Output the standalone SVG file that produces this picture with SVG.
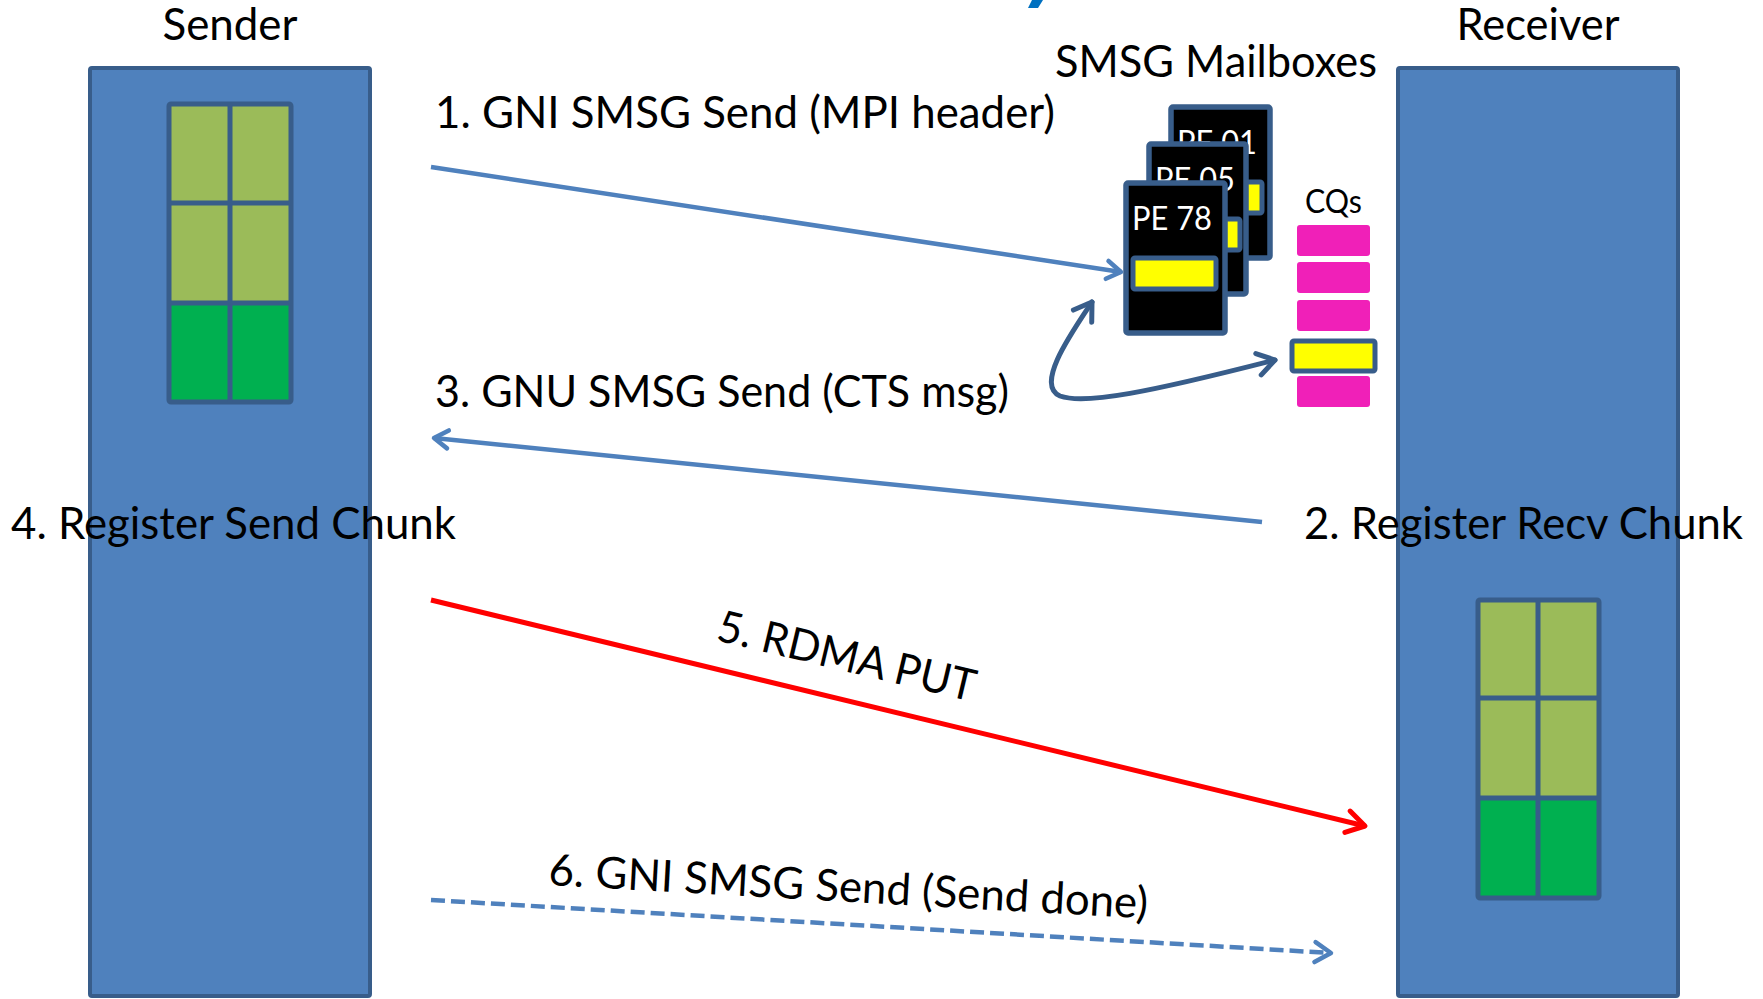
<svg xmlns="http://www.w3.org/2000/svg" width="1763" height="999" viewBox="0 0 1763 999">
<defs>
<style>
.lbl{font-family:Lato,"Liberation Sans",sans-serif;font-size:44px;fill:#000}
.sm{font-family:Lato,"Liberation Sans",sans-serif;font-size:33px}
.proc{fill:#4F81BD;stroke:#385D8A;stroke-width:4}
.grid{fill:none;stroke:#385D8A;stroke-width:5;stroke-linejoin:round}
.lg{fill:#9BBB59}
.dg{fill:#00B050}
.mb{fill:#000;stroke:#385D8A;stroke-width:5.5;stroke-linejoin:round}
.yb{fill:#FFFF00;stroke:#385D8A;stroke-width:5;stroke-linejoin:round}
.cq{fill:#F020B8}
.conn{fill:none;stroke:#4F81BD;stroke-width:4.5}
</style>
<marker id="ahBlue" markerUnits="userSpaceOnUse" markerWidth="40" markerHeight="40" viewBox="-20 -20 40 40" refX="0" refY="0" orient="auto" overflow="visible">
<path d="M-14,-9 L0,0 L-14,9" fill="none" stroke="#4F81BD" stroke-width="4.5" stroke-linecap="round" stroke-linejoin="round"/>
</marker>
<marker id="ahRed" markerUnits="userSpaceOnUse" markerWidth="50" markerHeight="50" viewBox="-25 -25 50 50" refX="0" refY="0" orient="auto" overflow="visible">
<path d="M-18,-11 L0,0 L-18,11" fill="none" stroke="#FF0000" stroke-width="5" stroke-linecap="round" stroke-linejoin="round"/>
</marker>
<marker id="ahDash" markerUnits="userSpaceOnUse" markerWidth="40" markerHeight="40" viewBox="-20 -20 40 40" refX="0" refY="0" orient="auto" overflow="visible">
<path d="M-16,-10 L0,0 L-16,10" fill="none" stroke="#4F81BD" stroke-width="4.5" stroke-linecap="round" stroke-linejoin="round"/>
</marker>
<marker id="ahDark" markerUnits="userSpaceOnUse" markerWidth="50" markerHeight="50" viewBox="-25 -25 50 50" refX="0" refY="0" orient="auto-start-reverse" overflow="visible">
<path d="M-17,-11 L0,0 L-17,11" fill="none" stroke="#385D8A" stroke-width="5" stroke-linecap="round" stroke-linejoin="round"/>
</marker>
</defs>
<rect width="1763" height="999" fill="#FFFFFF"/>
<polygon points="1032,0 1043,0 1038,8 1028,8" fill="#0070C0"/>

<g id="sender">
<rect class="proc" x="90" y="68" width="280" height="928" rx="2"/>
<rect class="lg" x="169" y="104" width="61" height="99"/>
<rect class="lg" x="230" y="104" width="61" height="99"/>
<rect class="lg" x="169" y="203" width="61" height="100"/>
<rect class="lg" x="230" y="203" width="61" height="100"/>
<rect class="dg" x="169" y="303" width="61" height="99"/>
<rect class="dg" x="230" y="303" width="61" height="99"/>
<rect class="grid" x="169" y="104" width="122" height="298" rx="2"/>
<path class="grid" d="M230,104 V402 M169,203 H291 M169,303 H291"/>
<text class="lbl" x="230" y="40" text-anchor="middle" textLength="135" lengthAdjust="spacingAndGlyphs">Sender</text>
</g>

<g id="receiver">
<rect class="proc" x="1398" y="68" width="280" height="928" rx="2"/>
<rect class="lg" x="1478" y="600" width="60" height="98"/>
<rect class="lg" x="1538" y="600" width="61" height="98"/>
<rect class="lg" x="1478" y="698" width="60" height="100"/>
<rect class="lg" x="1538" y="698" width="61" height="100"/>
<rect class="dg" x="1478" y="798" width="60" height="100"/>
<rect class="dg" x="1538" y="798" width="61" height="100"/>
<rect class="grid" x="1478" y="600" width="121" height="298" rx="2"/>
<path class="grid" d="M1538,600 V898 M1478,698 H1599 M1478,798 H1599"/>
<text class="lbl" x="1538" y="40" text-anchor="middle" textLength="163" lengthAdjust="spacingAndGlyphs">Receiver</text>
</g>

<g id="mailboxes">
<text class="lbl" x="1055" y="77" textLength="322" lengthAdjust="spacingAndGlyphs">SMSG Mailboxes</text>
<g id="pe01">
<rect class="mb" x="1171" y="107" width="99" height="151" rx="2"/>
<rect class="yb" x="1178" y="182" width="84" height="31" rx="2"/>
<text class="sm" x="1177" y="154" fill="#FFFFFF" textLength="80" lengthAdjust="spacingAndGlyphs">PE 01</text>
</g>
<g id="pe05">
<rect class="mb" x="1149" y="144" width="97" height="150" rx="2"/>
<rect class="yb" x="1156" y="219" width="84" height="31" rx="2"/>
<text class="sm" x="1155" y="191" fill="#FFFFFF" textLength="80" lengthAdjust="spacingAndGlyphs">PE 05</text>
</g>
<g id="pe78">
<rect class="mb" x="1126" y="183" width="99" height="150" rx="2"/>
<rect class="yb" x="1133" y="258" width="83" height="31" rx="2"/>
<text class="sm" x="1132" y="230" fill="#FFFFFF" textLength="80" lengthAdjust="spacingAndGlyphs">PE 78</text>
</g>
</g>

<g id="cqs">
<text class="sm" x="1305" y="213" fill="#000000" textLength="57" lengthAdjust="spacingAndGlyphs">CQs</text>
<rect class="cq" x="1297" y="225" width="73" height="31" rx="3"/>
<rect class="cq" x="1297" y="262" width="73" height="31" rx="3"/>
<rect class="cq" x="1297" y="300" width="73" height="31" rx="3"/>
<rect class="yb" x="1292" y="341" width="83" height="30" rx="2"/>
<rect class="cq" x="1297" y="376" width="73" height="31" rx="3"/>
</g>

<g id="connectors">
<path class="conn" d="M431,167 L1121,272" marker-end="url(#ahBlue)"/>
<path class="conn" d="M1262,522 L434,438" marker-end="url(#ahBlue)"/>
<path d="M1092,302 C1070,335 1035,385 1060,396 C1085,405 1150,392 1275,360" fill="none" stroke="#385D8A" stroke-width="5" stroke-linecap="round" marker-start="url(#ahDark)" marker-end="url(#ahDark)"/>
<path d="M431,600 L1365,826" fill="none" stroke="#FF0000" stroke-width="5" marker-end="url(#ahRed)"/>
<path d="M431,900 L1331,953" fill="none" stroke="#4F81BD" stroke-width="4.5" stroke-dasharray="14 6" marker-end="url(#ahDash)"/>
</g>

<g id="labels">
<text class="lbl" x="435" y="128" textLength="620" lengthAdjust="spacingAndGlyphs">1. GNI SMSG Send (MPI header)</text>
<text class="lbl" x="1304" y="539" textLength="439" lengthAdjust="spacingAndGlyphs">2. Register Recv Chunk</text>
<text class="lbl" x="435" y="407" textLength="574" lengthAdjust="spacingAndGlyphs">3. GNU SMSG Send (CTS msg)</text>
<text class="lbl" x="11" y="539" textLength="445" lengthAdjust="spacingAndGlyphs">4. Register Send Chunk</text>
<text class="lbl" x="715" y="640" transform="rotate(13.5 715 640)" textLength="264" lengthAdjust="spacingAndGlyphs">5. RDMA PUT</text>
<text class="lbl" x="548" y="885" transform="rotate(3.2 548 885)" textLength="600" lengthAdjust="spacingAndGlyphs">6. GNI SMSG Send (Send done)</text>
</g>
</svg>
